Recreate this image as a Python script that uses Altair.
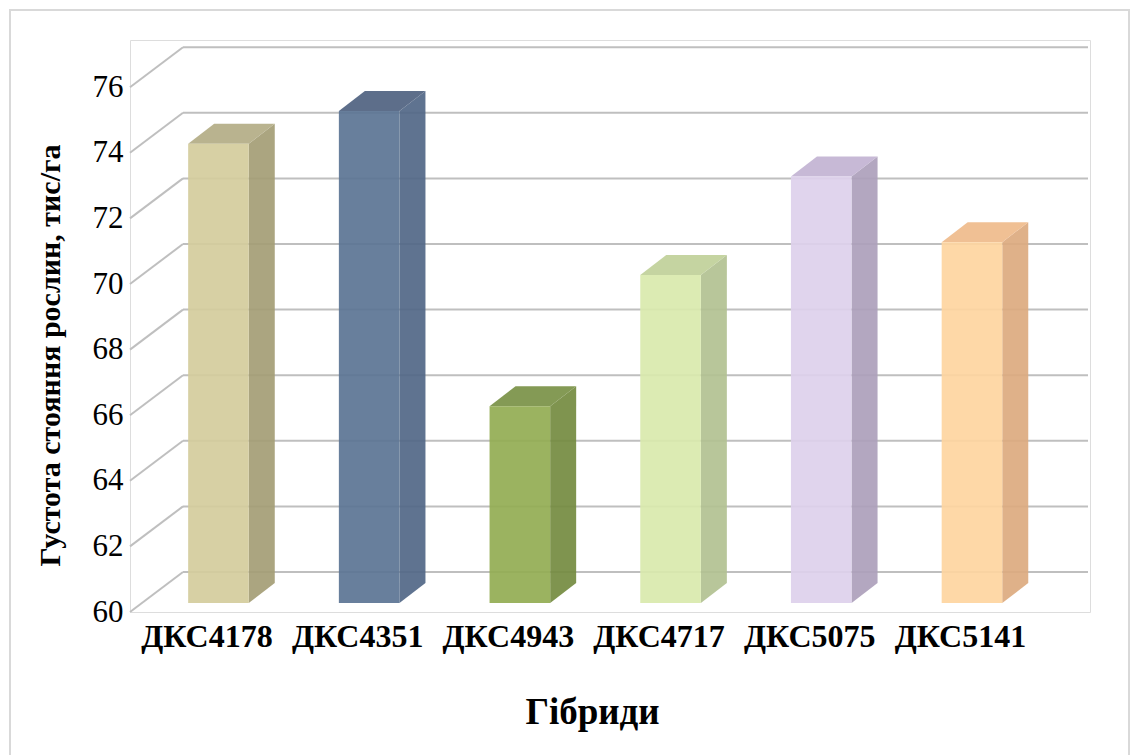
import altair as alt
import pandas as pd

# ---- data ----
hybrids = ["ДКС4178", "ДКС4351", "ДКС4943", "ДКС4717", "ДКС5075", "ДКС5141"]
density = [74, 75, 66, 70, 73, 71]
y_ticks = [60, 62, 64, 66, 68, 70, 72, 74, 76]

# ---- styles (as seen over white) ----
front_seen = ["#D7D0A4", "#687F9D", "#9BB460", "#DCEBB4", "#E0D4ED", "#FED8A8"]
side_seen = ["#ABA580", "#5F7391", "#7F944F", "#B8C69A", "#B3A8C0", "#DFB189"]
top_seen = ["#B9B390", "#5D6F8A", "#859A55", "#C5D4A1", "#C7B9D6", "#F0C094"]
ALPHA = 0.92
GRID = "#BFBFBF"
FONT = "Liberation Serif"


def unblend(hexcol, a=ALPHA):
    out = []
    for k in (1, 3, 5):
        c = int(hexcol[k:k + 2], 16)
        v = (c - (1 - a) * 255) / a
        out.append(max(0, min(255, round(v))))
    return "#%02X%02X%02X" % tuple(out)


front_colors = [unblend(c) for c in front_seen]
side_colors = [unblend(c) for c in side_seen]
top_colors = [unblend(c) for c in top_seen]

# ---- geometry (plot area in pixels, scale factors) ----
W, H = 960, 572
PX_CAT = 150.7      # px per category step
PX_UNIT = 32.8      # px per y unit
X0 = -0.587
XDOM = [X0, X0 + W / PX_CAT]
YDOM = [60, 60 + H / PX_UNIT]
WALL_DX, WALL_DY = 53 / PX_CAT, 40 / PX_UNIT
BAR_SHIFT = 9 / PX_UNIT
BAR_DX, BAR_DY = 26 / PX_CAT, 20 / PX_UNIT
HALF = 30.3 / PX_CAT
BACK_RIGHT = X0 + 958 / PX_CAT
BASE = 60

# ---- tables built from the arrays ----
front_rows, side_rows, top_rows = [], [], []
for i, (h, v) in enumerate(zip(hybrids, density)):
    front_rows.append(dict(h=h, x=i - HALF, x2=i + HALF, y=BASE + BAR_SHIFT, y2=v + BAR_SHIFT))
    for t in (0, 1):
        side_rows.append(dict(h=h, x=i + HALF + t * BAR_DX,
                              y=v + BAR_SHIFT + t * BAR_DY,
                              y2=BASE + BAR_SHIFT + t * BAR_DY))
        top_rows.append(dict(h=h, y=v + BAR_SHIFT + t * BAR_DY,
                             x=i - HALF + t * BAR_DX, x2=i + HALF + t * BAR_DX))
front_df = pd.DataFrame(front_rows)
side_df = pd.DataFrame(side_rows)
top_df = pd.DataFrame(top_rows)
back_df = pd.DataFrame(dict(y=[t + WALL_DY for t in y_ticks],
                            x=[X0 + WALL_DX] * len(y_ticks),
                            x2=[BACK_RIGHT] * len(y_ticks)))
slant_df = pd.DataFrame(dict(x=[X0] * len(y_ticks), y=y_ticks,
                             x2=[X0 + WALL_DX] * len(y_ticks),
                             y2=[t + WALL_DY for t in y_ticks]))

label_expr = "[" + ",".join("'%s'" % h for h in hybrids) + "][datum.value]"

x_axis = alt.Axis(values=list(range(len(hybrids))), labelExpr=label_expr,
                  labelOffset=-12, labelPadding=9, labelFont=FONT, labelFontSize=32,
                  labelFontWeight="bold", labelColor="black", labelFlush=False,
                  labelOverlap=False, labelBound=False,
                  domain=False, ticks=False, grid=False,
                  title="Гібриди", titleFont=FONT, titleFontSize=37, titleFontWeight="bold",
                  titleColor="black", titleX=462, titleY=100, titleAlign="center",
                  titleBaseline="middle")
y_axis = alt.Axis(values=y_ticks, labelPadding=7, labelFont=FONT, labelFontSize=31,
                  labelColor="black", labelOverlap=False, labelFlush=False,
                  domain=False, ticks=False, grid=False,
                  title="Густота стояння рослин, тис/га", titleFont=FONT, titleFontSize=30,
                  titleFontWeight="bold", titleColor="black", titleAngle=270,
                  titleX=-80, titleY=315, titleAlign="center", titleBaseline="middle")

xs = alt.Scale(domain=XDOM, zero=False, nice=False)
ys = alt.Scale(domain=YDOM, zero=False, nice=False)


def X(f="x"):
    return alt.X(f, type="quantitative", scale=xs, axis=x_axis)


def Y(f="y"):
    return alt.Y(f, type="quantitative", scale=ys, axis=y_axis)


def col(colors):
    return alt.Color("h:N", scale=alt.Scale(domain=hybrids, range=colors), legend=None)


border = alt.Chart(pd.DataFrame({"a": [0]})).mark_rect(
    fill=None, stroke="#D9D9D9", strokeWidth=2
).encode(x=alt.value(-120), x2=alt.value(999), y=alt.value(-30), y2=alt.value(740))

back = alt.Chart(back_df).mark_rule(color=GRID, strokeWidth=2).encode(
    x=X(), x2="x2", y=Y())
slant = alt.Chart(slant_df).mark_rule(color=GRID, strokeWidth=2).encode(
    x=X(), x2="x2", y=Y(), y2="y2")

front = alt.Chart(front_df).mark_rect(strokeWidth=0, opacity=ALPHA).encode(
    x=X(), x2="x2", y=Y(), y2="y2", color=col(front_colors))
side = alt.Chart(side_df).mark_area(strokeWidth=0, opacity=ALPHA).encode(
    x=X(), y=Y(), y2="y2", detail="h:N", color=col(side_colors))
top = alt.Chart(top_df).mark_area(orient="horizontal", strokeWidth=0, opacity=ALPHA).encode(
    y=Y(), x=X(), x2="x2", detail="h:N", color=col(top_colors))

chart = alt.layer(back, slant, side, top, front, border).resolve_scale(
    color="independent"
).properties(
    width=W, height=H,
    autosize=alt.AutoSizeParams(type="none"),
    padding={"left": 130, "top": 40, "right": 41, "bottom": 143},
).configure_view(stroke=None).configure(background="white", font=FONT)

chart.save("out.html", embed_options={"renderer": "svg", "actions": False})
